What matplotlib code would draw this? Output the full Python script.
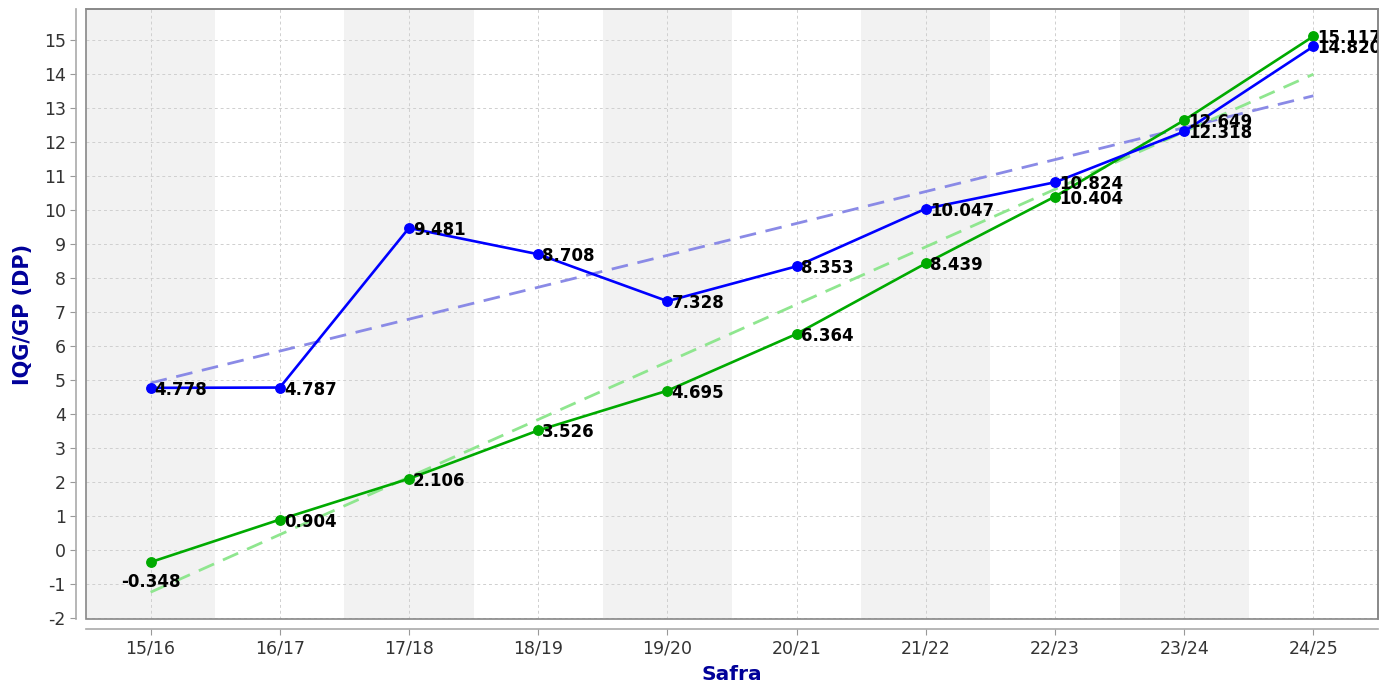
import matplotlib
matplotlib.use("Agg")
import matplotlib.pyplot as plt
import matplotlib.patches as patches
import numpy as np

plt.rcParams["axes.unicode_minus"] = False

# data
safras = ["15/16", "16/17", "17/18", "18/19", "19/20",
          "20/21", "21/22", "22/23", "23/24", "24/25"]
serie_azul = [4.778, 4.787, 9.481, 8.708, 7.328, 8.353, 10.047, 10.824, 12.318, 14.820]
serie_verde = [-0.348, 0.904, 2.106, 3.526, 4.695, 6.364, 8.439, 10.404, 12.649, 15.117]
y_ticks = list(range(-2, 16))

azul = "#0000ff"
verde = "#00aa00"
azul_tend = "#8a8ae6"
verde_tend = "#8fe68f"
rotulo_cor = "#000099"

fig = plt.figure(figsize=(13.8, 6.88), dpi=100)
ax = fig.add_axes([86 / 1380, 1 - 619 / 688, (1378 - 86) / 1380, (619 - 9) / 688])

x = np.arange(len(safras))

# alternating category bands
for i in x:
    if i % 2 == 0:
        ax.axvspan(i - 0.5, i + 0.5, color="#f2f2f2", zorder=0, lw=0)

ax.set_xlim(-0.5, len(safras) - 0.5)
ax.set_ylim(-2.02, 15.92)

ax.grid(True, color="#cfcfcf", linestyle=(0, (3, 3)), linewidth=0.7, zorder=1)
ax.set_axisbelow(True)

# trend lines (least squares)
for serie, cor in [(serie_azul, azul_tend), (serie_verde, verde_tend)]:
    a, b = np.polyfit(x, serie, 1)
    ax.plot(x, a * x + b, color=cor, lw=2.0, ls=(0, (6, 3.5)), zorder=2)

ax.plot(x, serie_verde, color=verde, lw=1.9, marker="o", ms=6.8, zorder=3)
ax.plot(x, serie_azul, color=azul, lw=1.9, marker="o", ms=6.8, zorder=4)

for serie in [serie_verde, serie_azul]:
    for xi, v in zip(x, serie):
        if v < 0:
            ax.annotate(f"{v:.3f}", (xi, v), xytext=(0, -20), textcoords="offset pixels",
                        ha="center", va="center", fontsize=12, fontweight="bold",
                        color="black", zorder=5, clip_on=True)
        else:
            ax.annotate(f"{v:.3f}", (xi, v), xytext=(4, -2), textcoords="offset pixels",
                        ha="left", va="center", fontsize=12, fontweight="bold",
                        color="black", zorder=5, clip_on=True)

ax.set_xticks(x)
ax.set_xticklabels(safras)
ax.set_yticks(y_ticks)
ax.tick_params(axis="both", labelsize=12.5, colors="#333333", length=4, width=0.8)
ax.tick_params(axis="both", color="#999999")

# frame of the plot area
for s in ["top", "right"]:
    ax.spines[s].set_color("#888888")
    ax.spines[s].set_linewidth(1.2)
ax.spines["left"].set_position(("outward", 7))
ax.spines["bottom"].set_position(("outward", 7))
for s in ["left", "bottom"]:
    ax.spines[s].set_color("#aaaaaa")
    ax.spines[s].set_linewidth(1.2)
ax.add_patch(patches.Rectangle((0, 0), 1, 1, transform=ax.transAxes, fill=False,
                               edgecolor="#888888", lw=1.2, zorder=6, clip_on=False))

ax.set_xlabel("Safra", fontsize=14.5, fontweight="bold", color=rotulo_cor, labelpad=6)
ax.set_ylabel("IQG/GP (DP)", fontsize=15, fontweight="bold", color=rotulo_cor, labelpad=8)

fig.savefig("out.png", dpi=100)
